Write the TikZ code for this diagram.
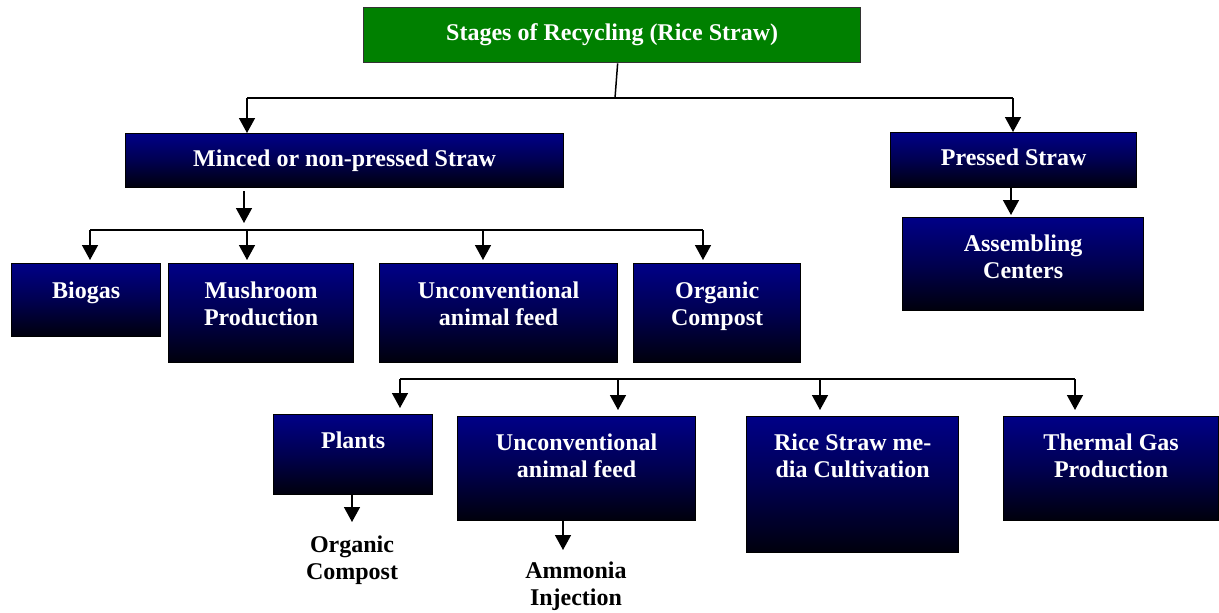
\documentclass[tikz,border=0pt]{standalone}
\usepackage{fontspec}
\setmainfont{Liberation Serif}
\usetikzlibrary{arrows.meta}
\definecolor{navytop}{RGB}{0,0,135}
\definecolor{navybot}{RGB}{0,0,12}
\definecolor{topgreen}{RGB}{0,128,0}
\begin{document}
\begin{tikzpicture}[x=1pt,y=-1pt,
  txt/.style={font=\fontsize{24}{27.3}\selectfont\bfseries, align=center},
  box/.style={draw=black, line width=1.3pt, top color=navytop, bottom color=navybot,
    middle color=navytop!55!navybot, inner sep=0pt, anchor=north west, txt, text=white},
  gbox/.style={draw=black!80, line width=1.3pt, fill=topgreen, inner sep=0pt,
    anchor=north west, txt, text=white},
  inlab/.style={txt, text=white, anchor=north, inner sep=0pt},
  outlab/.style={txt, text=black, anchor=north, inner sep=0pt},
  ln/.style={line width=1.5pt, draw=black},
  arr/.style={ln, -{Triangle[length=15pt,width=16pt]}}]
\useasboundingbox (0,0) rectangle (1219,613);

% boxes
\node[gbox, minimum width=497, minimum height=55] (top) at (363,7) {Stages of Recycling (Rice Straw)};
\node[box, minimum width=438, minimum height=54] (minced) at (125,133) {Minced or non-pressed Straw};
\node[box, minimum width=246, minimum height=55, text depth=6pt] (pressed) at (890,132) {Pressed Straw};
\node[box, minimum width=241, minimum height=93] (assem) at (902,217) {};
\node[box, minimum width=149, minimum height=73] (biogas) at (11,263) {};
\node[box, minimum width=185, minimum height=99] (mush) at (168,263) {};
\node[box, minimum width=238, minimum height=99] (unc1) at (379,263) {};
\node[box, minimum width=167, minimum height=99] (org) at (633,263) {};
\node[box, minimum width=159, minimum height=80] (plants) at (273,414) {};
\node[box, minimum width=238, minimum height=104] (unc2) at (457,416) {};
\node[box, minimum width=212, minimum height=136] (rice) at (746,416) {};
\node[box, minimum width=215, minimum height=104] (therm) at (1003,416) {};

% box texts
\node[inlab] (assemT) at ([yshift=-15pt]assem.north) {\strut Assembling\\Centers};
\node[inlab] (biogasT) at ([yshift=-16pt]biogas.north) {\strut Biogas};
\node[inlab] (mushT) at ([yshift=-16pt]mush.north) {\strut Mushroom\\Production};
\node[inlab] (unc1T) at ([yshift=-16pt]unc1.north) {\strut Unconventional\\animal feed};
\node[inlab] (orgT) at ([yshift=-16pt]org.north) {\strut Organic\\Compost};
\node[inlab] (plantsT) at ([yshift=-15pt]plants.north) {\strut Plants};
\node[inlab] (unc2T) at ([yshift=-15pt]unc2.north) {\strut Unconventional\\animal feed};
\node[inlab] (riceT) at ([yshift=-15pt]rice.north) {\strut Rice Straw me-\\dia Cultivation};
\node[inlab] (thermT) at ([yshift=-15pt]therm.north) {\strut Thermal Gas\\Production};

% outside labels
\node[outlab] (compost) at (352,533) {\strut Organic\\Compost};
\node[outlab] (ammonia) at (576,559) {\strut Ammonia\\Injection};

% level 1 connectors
\coordinate (j1) at (615,98);
\coordinate (h1l) at (247,98);
\coordinate (h1r) at (1013,98);
\draw[ln] ([xshift=5.5pt]top.south) -- (j1);
\draw[ln] (h1l) -- (h1r);
\draw[arr] (h1l) -- (h1l |- minced.north);
\draw[arr] (h1r) -- (h1r |- pressed.north);

% minced -> row
\coordinate (m1) at (244,191);
\coordinate (m2) at (244,223);
\draw[arr] (m1) -- (m2);
\coordinate (h2l) at (90,230);
\coordinate (h2b) at (247,230);
\coordinate (h2c) at (483,230);
\coordinate (h2r) at (703,230);
\draw[ln] (h2l) -- (h2r);
\draw[arr] (h2l) -- ([yshift=3pt]h2l |- biogas.north);
\draw[arr] (h2b) -- ([yshift=3pt]h2b |- mush.north);
\draw[arr] (h2c) -- ([yshift=3pt]h2c |- unc1.north);
\draw[arr] (h2r) -- ([yshift=3pt]h2r |- org.north);

% pressed -> assembling
\coordinate (p1) at (1011,187);
\draw[arr] (p1) -- ([yshift=2pt]p1 |- assem.north);

% second row
\coordinate (h3l) at (400,379);
\coordinate (h3b) at (618,379);
\coordinate (h3c) at (820,379);
\coordinate (h3r) at (1075,379);
\draw[ln] (h3l) -- (h3r);
\draw[arr] (h3l) -- ([yshift=6pt]h3l |- plants.north);
\draw[arr] (h3b) -- ([yshift=6pt]h3b |- unc2.north);
\draw[arr] (h3c) -- ([yshift=6pt]h3c |- rice.north);
\draw[arr] (h3r) -- ([yshift=6pt]h3r |- therm.north);

% bottom arrows
\coordinate (q1) at (352,494);
\coordinate (q2) at (563,520);
\draw[arr] (q1) -- (352,522);
\draw[arr] (q2) -- (563,550);
\end{tikzpicture}
\end{document}
